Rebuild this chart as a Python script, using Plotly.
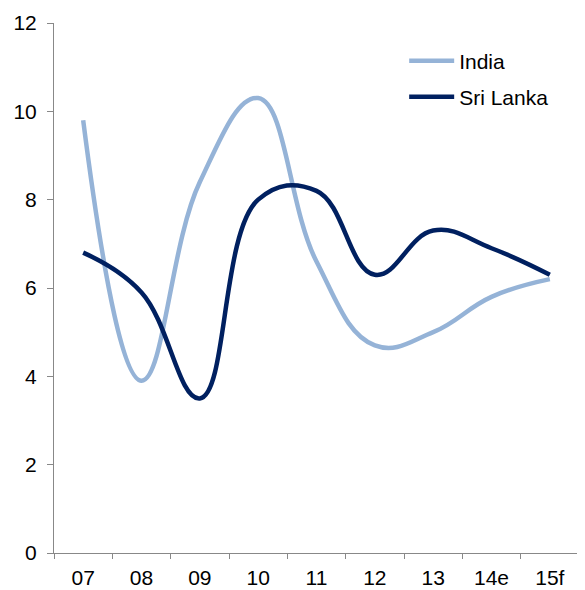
import plotly.graph_objects as go

years = ["07", "08", "09", "10", "11", "12", "13", "14e", "15f"]
india = [9.8, 3.9, 8.4, 10.3, 6.6, 4.7, 5.0, 5.8, 6.2]
sri_lanka = [6.8, 5.9, 3.5, 8.0, 8.2, 6.3, 7.3, 6.9, 6.3]
y_ticks = [0, 2, 4, 6, 8, 10, 12]

FONT = "Arial, Liberation Sans, sans-serif"
INDIA_C = "#95B3D7"
SL_C = "#002060"

# page body has an 8px default margin; compensate so the plot area sits at
# x 54..579, y 23..553 in the 585x590 window
OFF = 8

fig = go.Figure()
fig.add_trace(go.Scatter(x=years, y=india, name="India", mode="lines",
                         line=dict(color=INDIA_C, width=4.5, shape="spline", smoothing=1.2),
                         legend="legend"))
fig.add_trace(go.Scatter(x=years, y=sri_lanka, name="Sri Lanka", mode="lines",
                         line=dict(color=SL_C, width=4.5, shape="spline", smoothing=1.2),
                         legend="legend2"))

leg_common = dict(font=dict(family=FONT, size=21, color="black"), bgcolor="rgba(0,0,0,0)",
                  xanchor="left", yanchor="middle", itemwidth=45)
fig.update_layout(
    width=585 - OFF, height=590 - OFF,
    margin=dict(l=54 - OFF, r=6, t=23 - OFF, b=37, autoexpand=False),
    paper_bgcolor="white", plot_bgcolor="white",
    font=dict(family=FONT, size=21, color="black"),
    showlegend=True,
    legend=dict(x=0.667, y=(553 - 61) / 530, **leg_common),
    legend2=dict(x=0.667, y=(553 - 97) / 530, **leg_common),
    xaxis=dict(type="category", range=[-0.5, 8.5], showline=True, linecolor="#888888",
               linewidth=1, ticks="outside", tickson="boundaries", ticklen=5,
               tickcolor="#888888", showgrid=False, zeroline=False, automargin=False,
               ticklabelstandoff=6,
               tickfont=dict(family=FONT, size=21, color="black")),
    yaxis=dict(range=[0, 12], tickvals=y_ticks, showline=True, linecolor="#888888",
               linewidth=1, ticks="outside", ticklen=6, tickcolor="#888888",
               showgrid=False, zeroline=False, ticklabelstandoff=6, automargin=False,
               tickfont=dict(family=FONT, size=21, color="black")),
)
fig.write_html("out.html")
